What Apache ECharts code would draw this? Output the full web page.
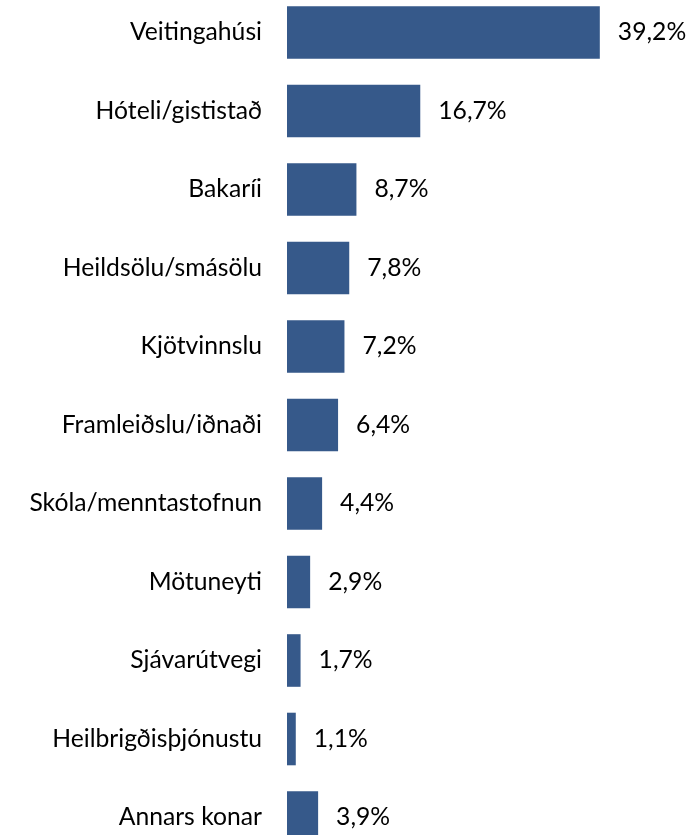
<!DOCTYPE html>
<html>
<head>
<meta charset="utf-8">
<script src="https://cdn.jsdelivr.net/npm/echarts@6/dist/echarts.min.js"></script>
<style>
    html, body { margin: 0; padding: 0; background: #fff; }
    #chart { width: 690px; height: 835px; }
</style>
</head>
<body>
<div id="chart"></div>
<script>
var categories = ['Veitingahúsi', 'Hóteli/gististað', 'Bakaríi', 'Heildsölu/smásölu', 'Kjötvinnslu',
    'Framleiðslu/iðnaði', 'Skóla/menntastofnun', 'Mötuneyti', 'Sjávarútvegi', 'Heilbrigðisþjónustu', 'Annars konar'];
var values = [39.2, 16.7, 8.7, 7.8, 7.2, 6.4, 4.4, 2.9, 1.7, 1.1, 3.9];

var myChart = echarts.init(document.getElementById('chart'));

//标签格式: 逗号小数
var fmt = function (p) {
    return p.value.toFixed(1).replace('.', ',') + '%';
};

var option = {
    backgroundColor: '#fff',
    animation: false,
    grid: {
        left: 287,
        width: 399,
        top: -6.75,
        height: 863.5,
        containLabel: false,
        outerBoundsMode: 'none'
    },
    xAxis: {
        type: 'value',
        min: 0,
        max: 50,
        show: false
    },
    yAxis: {
        type: 'category',
        data: categories,
        inverse: true,
        axisLine: { show: false },
        axisTick: { show: false },
        axisLabel: {
            margin: 25,
            color: '#000',
            fontFamily: 'Lato',
            fontSize: 24.7
        }
    },
    series: [{
        type: 'bar',
        data: values,
        barCategoryGap: '33%',
        itemStyle: { color: '#36598A' },
        label: {
            show: true,
            position: 'right',
            distance: 18,
            formatter: fmt,
            color: '#000',
            fontFamily: 'Lato',
            fontSize: 24.7
        }
    }]
};

myChart.setOption(option);
</script>
</body>
</html>
